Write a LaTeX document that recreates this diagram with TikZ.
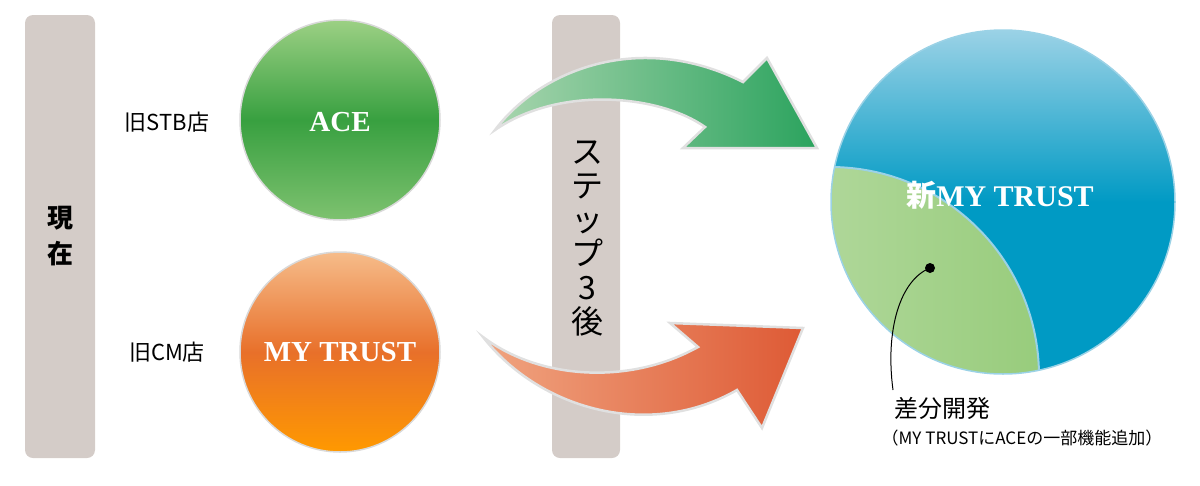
\documentclass[tikz,border=0pt]{standalone}
\usepackage{fontspec}
\setmainfont{Liberation Serif}
\newfontfamily\jpfont{Noto Sans CJK JP}
\usetikzlibrary{positioning}
\definecolor{barGray}{HTML}{D4CCC8}
\definecolor{aceTop}{HTML}{9CD084}
\definecolor{aceMid}{HTML}{38A040}
\definecolor{mtTop}{HTML}{F6BC8A}
\definecolor{mtMid}{HTML}{E8702A}
\definecolor{newBlue}{HTML}{009AC4}
\definecolor{newTop}{HTML}{9BD2E6}
\definecolor{diffGreen}{HTML}{98CC7C}
\definecolor{diffLight}{HTML}{F2F8EE}
\definecolor{arrGreenL}{HTML}{A8D5AE}
\definecolor{arrGreenR}{HTML}{2BA35E}
\definecolor{arrRedL}{HTML}{F0A480}
\definecolor{arrRedR}{HTML}{DE5A35}
\tikzset{
  bar/.style={fill=barGray,rounded corners=8pt},
  lbl/.style={font=\jpfont\fontsize{22}{24}\selectfont},
  sys/.style={font=\bfseries\fontsize{29}{31}\selectfont,text=white},
  arrowedge/.style={draw=white!88!black,line width=2.5pt,line join=miter}
}
\begin{document}
\begin{tikzpicture}[x=1pt,y=-1pt]
\useasboundingbox (0,0) rectangle (1200,485);

% bars
\fill[bar] (25,15) rectangle (95,458);
\fill[bar] (552,15) rectangle (620,458);

% arrows
\shade[arrowedge,left color=arrGreenL,right color=arrGreenR]
  (495,130) .. controls (540,70) and (640,30) .. (743,82) -- (767,58) -- (817,148)
  -- (683,148) -- (705,127) .. controls (660,95) and (560,85) .. cycle;
\shade[arrowedge,left color=arrRedL,right color=arrRedR]
  (483,337) .. controls (540,410) and (650,440) .. (737,390) -- (762,428) -- (803,328)
  -- (670,323) -- (698,347) .. controls (630,385) and (540,380) .. cycle;

% current systems
\shade[top color=aceTop,bottom color=aceTop!70!aceMid,middle color=aceMid,draw=white!70!gray,line width=1.5pt]
  (340,120) circle (100);
\shade[top color=mtTop,bottom color=orange!80!yellow,middle color=mtMid,draw=white!70!gray,line width=1.5pt]
  (340,352) circle (100);
\node[sys] (ace) at (340,122) {ACE};
\node[sys] (mytrust) at (340,352) {MY TRUST};

% new system
\begin{scope}
  \clip (1003,202) circle (172);
  \shade[top color=newTop,bottom color=newBlue,middle color=newBlue] (831,30) rectangle (1175,374);
  \shade[left color=diffLight,right color=diffGreen,middle color=diffGreen!75!diffLight,draw=newTop,line width=2pt]
    (830,376) circle (209);
\end{scope}
\draw[newTop,line width=1.5pt] (1003,202) circle (172);
\node[sys,font=\bfseries\fontsize{30}{32}\selectfont] (newmt) at (1000,195) {{\jpfont 新}MY TRUST};

% labels
\node[lbl] (stb) at (167,122) {旧STB店};
\node[lbl] (cm) at (167,352) {旧CM店};
\node[lbl,font=\jpfont\bfseries\fontsize{26}{28}\selectfont,align=center] (now) at (60,236) {現\\[8pt]在};
\node[lbl,font=\jpfont\fontsize{32}{34}\selectfont,align=center] (step) at (587,238) {ス\\テ\\ッ\\プ\\3\\後};

\fill (930,268) circle (5) coordinate (dot);
\node[lbl,font=\jpfont\fontsize{24}{26}\selectfont] (diff) at (942,408) {差分開発};
\node[font=\jpfont\fontsize{17}{19}\selectfont] (note) at (1022,438) {（MY TRUSTにACEの一部機能追加）};
\draw[line width=1pt] (dot) .. controls (900,280) and (885,330) .. (893,390);
\end{tikzpicture}
\end{document}
